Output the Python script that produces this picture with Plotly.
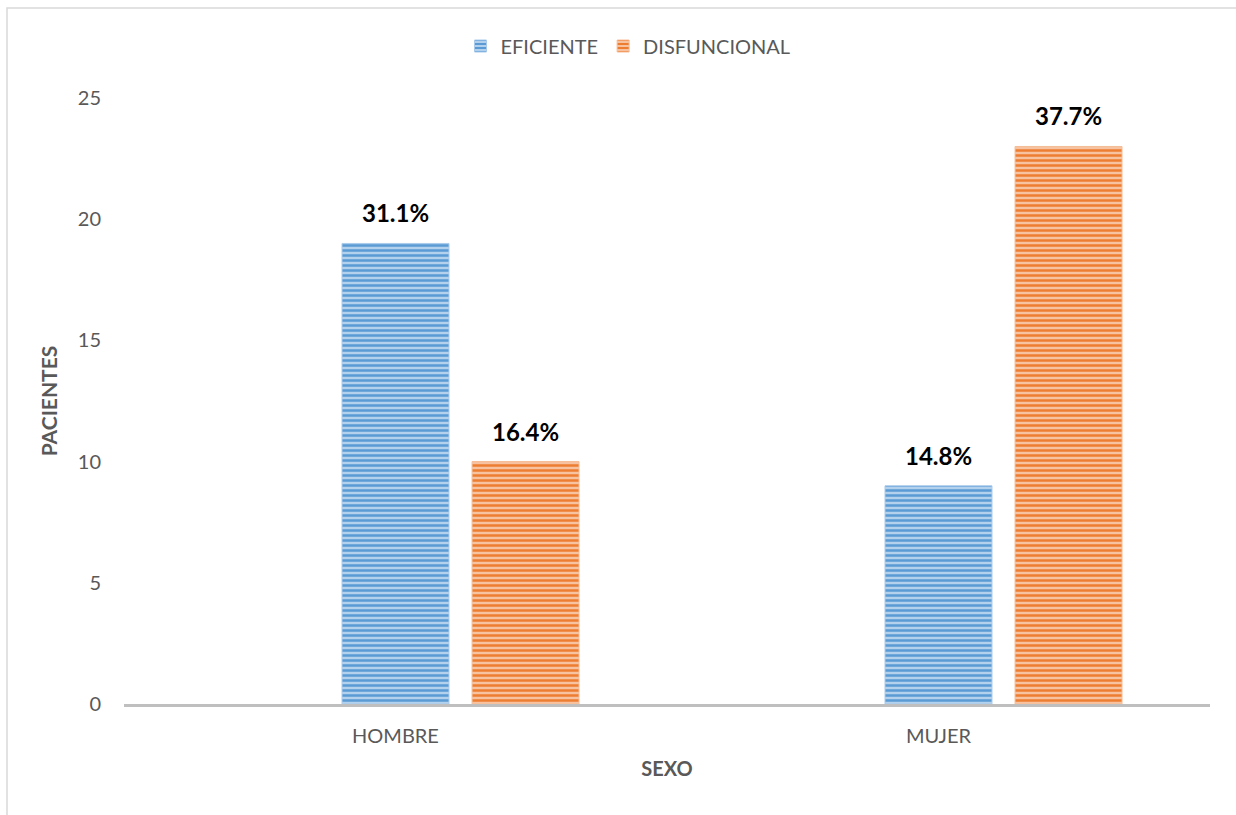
import plotly.graph_objects as go

categories = ["HOMBRE", "MUJER"]
eficiente = [19, 9]
disfuncional = [10, 23]
eficiente_labels = ["31.1%", "14.8%"]
disfuncional_labels = ["16.4%", "37.7%"]
y_ticks = [0, 5, 10, 15, 20, 25]

W, H = 1236, 815
ml, mr, mt, mb = 124, 26, 98, 111
pw = W - ml - mr
ph = H - mt - mb

bar_w = 0.197
off_e = -0.0985
off_d = 0.141

FONT = "Lato, 'Open Sans', sans-serif"
xs = list(range(len(categories)))

fig = go.Figure()
fig.add_trace(go.Bar(
    x=xs, y=eficiente, name="EFICIENTE", width=bar_w, offset=off_e,
    marker=dict(color="#5B9BD5", line=dict(color="#A9CAEB", width=1),
                pattern=dict(shape="-", fgcolor="#5B9BD5", bgcolor="#B3D0EC", size=5, solidity=0.5,
                             fillmode="replace")),
))
fig.add_trace(go.Bar(
    x=xs, y=disfuncional, name="DISFUNCIONAL", width=bar_w, offset=off_d,
    marker=dict(color="#ED7D31", line=dict(color="#F6BE98", width=1),
                pattern=dict(shape="-", fgcolor="#ED7D31", bgcolor="#F7C2A0", size=5, solidity=0.5,
                             fillmode="replace")),
))

annotations = []
for i in xs:
    for vals, labs, off in ((eficiente, eficiente_labels, off_e), (disfuncional, disfuncional_labels, off_d)):
        annotations.append(dict(
            x=i + off + bar_w / 2, y=vals[i], xref="x", yref="y", text=labs[i],
            showarrow=False, yanchor="bottom", yshift=14,
            font=dict(family=FONT, size=24, color="#000000", weight="bold"),
        ))

fig.update_layout(
    width=W, height=H,
    margin=dict(l=ml, r=mr, t=mt, b=mb),
    paper_bgcolor="white", plot_bgcolor="white",
    barmode="overlay",
    font=dict(family=FONT, color="#595959", size=20),
    legend=dict(orientation="h", x=(628 - ml) / pw, xanchor="center", y=1 + (98 - 46) / ph, yanchor="middle",
                font=dict(size=20, color="#595959"), itemwidth=30, traceorder="normal"),
    annotations=annotations,
    shapes=[dict(type="rect", xref="paper", yref="paper",
                 x0=(7 - ml) / pw, x1=(W + 10 - ml) / pw,
                 y0=-(H + 10 - mt - ph) / ph, y1=1 + (mt - 8) / ph,
                 line=dict(color="#D9D9D9", width=1.5), layer="below")],
)
fig.update_xaxes(
    range=[-0.5, len(categories) - 0.5], tickvals=xs, ticktext=categories,
    showline=True, linecolor="#BFBFBF", linewidth=3, showgrid=False, zeroline=False,
    ticks="", ticklabelstandoff=12, tickfont=dict(size=20, color="#595959"),
    title=dict(text="SEXO", font=dict(size=20, color="#595959", weight="bold"), standoff=16),
)
fig.update_yaxes(
    range=[0, 25], tickvals=y_ticks, showgrid=False, zeroline=False, showline=False,
    ticks="", ticklabelstandoff=22, tickfont=dict(size=20, color="#595959"),
    title=dict(text="PACIENTES", font=dict(size=21, color="#595959", weight="bold"), standoff=14),
)

fig.write_html("out.html")
